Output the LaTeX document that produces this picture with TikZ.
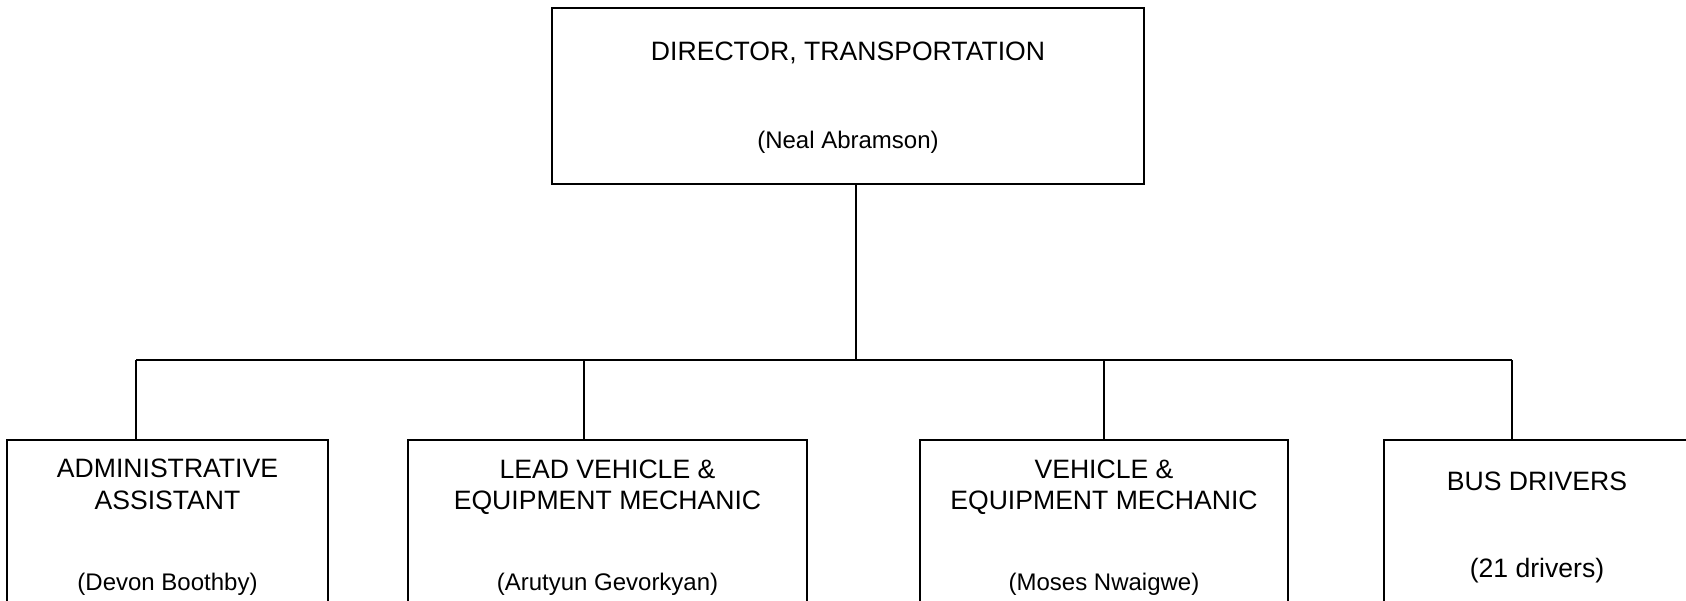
\documentclass[tikz,border=0pt]{standalone}
\usepackage{fontspec}
\setmainfont{Liberation Sans}
\begin{document}
\begin{tikzpicture}[
    x=1pt, y=-1pt,
    font=\fontsize{26.6}{31}\selectfont,
    caja/.style={draw,line width=2pt,inner sep=0pt},
    texto/.style={anchor=base,inner sep=0pt},
    nombre/.style={texto,font=\fontsize{24}{29}\selectfont},
    linea/.style={line width=2pt}]

  \clip (0,0) rectangle (1686,600);

  %% ============================== director =================================
  \node[caja,minimum width=592,minimum height=176] (dir) at (848,95.5) {};
  \node[texto]  (dir1) at (848,60) {DIRECTOR, TRANSPORTATION};
  \node[nombre] (dir2) at (848,148) {(Neal Abramson)};

  %% ============================ subordinados ===============================
  \foreach \i/\cx/\w in {1/167.5/320.5, 2/607.5/399, 3/1104/368, 4/1538/308}
    \node[caja,minimum width=\w,minimum height=180] (c\i) at (\cx,530) {};

  \node[texto]  (t1a) at (167.5,477) {ADMINISTRATIVE};
  \node[texto]  (t1b) at (167.5,509) {ASSISTANT};
  \node[nombre] (n1)  at (167.5,590) {(Devon Boothby)};

  \node[texto]  (t2a) at (607.5,478) {LEAD VEHICLE \&};
  \node[texto]  (t2b) at (607.5,509) {EQUIPMENT MECHANIC};
  \node[nombre] (n2)  at (607.5,590) {(Arutyun Gevorkyan)};

  \node[texto]  (t3a) at (1104,478) {VEHICLE \&};
  \node[texto]  (t3b) at (1104,509) {EQUIPMENT MECHANIC};
  \node[nombre] (n3)  at (1104,590) {(Moses Nwaigwe)};

  \node[texto] (t4a) at (1537,490) {BUS DRIVERS};
  \node[texto] (n4)  at (1537,577) {(21 drivers)};

  %% ============================== lineas ===================================
  \foreach \i/\bx in {1/136, 2/584, 3/1104, 4/1512} {
    \coordinate (b\i) at (\bx,360);
    \draw[linea] (b\i) -- (b\i |- c\i.north);
  }
  \coordinate (raiz) at (856,360);
  \draw[linea] (raiz |- dir.south) -- (raiz);
  \draw[linea] (b1) -- (b4);

\end{tikzpicture}
\end{document}
